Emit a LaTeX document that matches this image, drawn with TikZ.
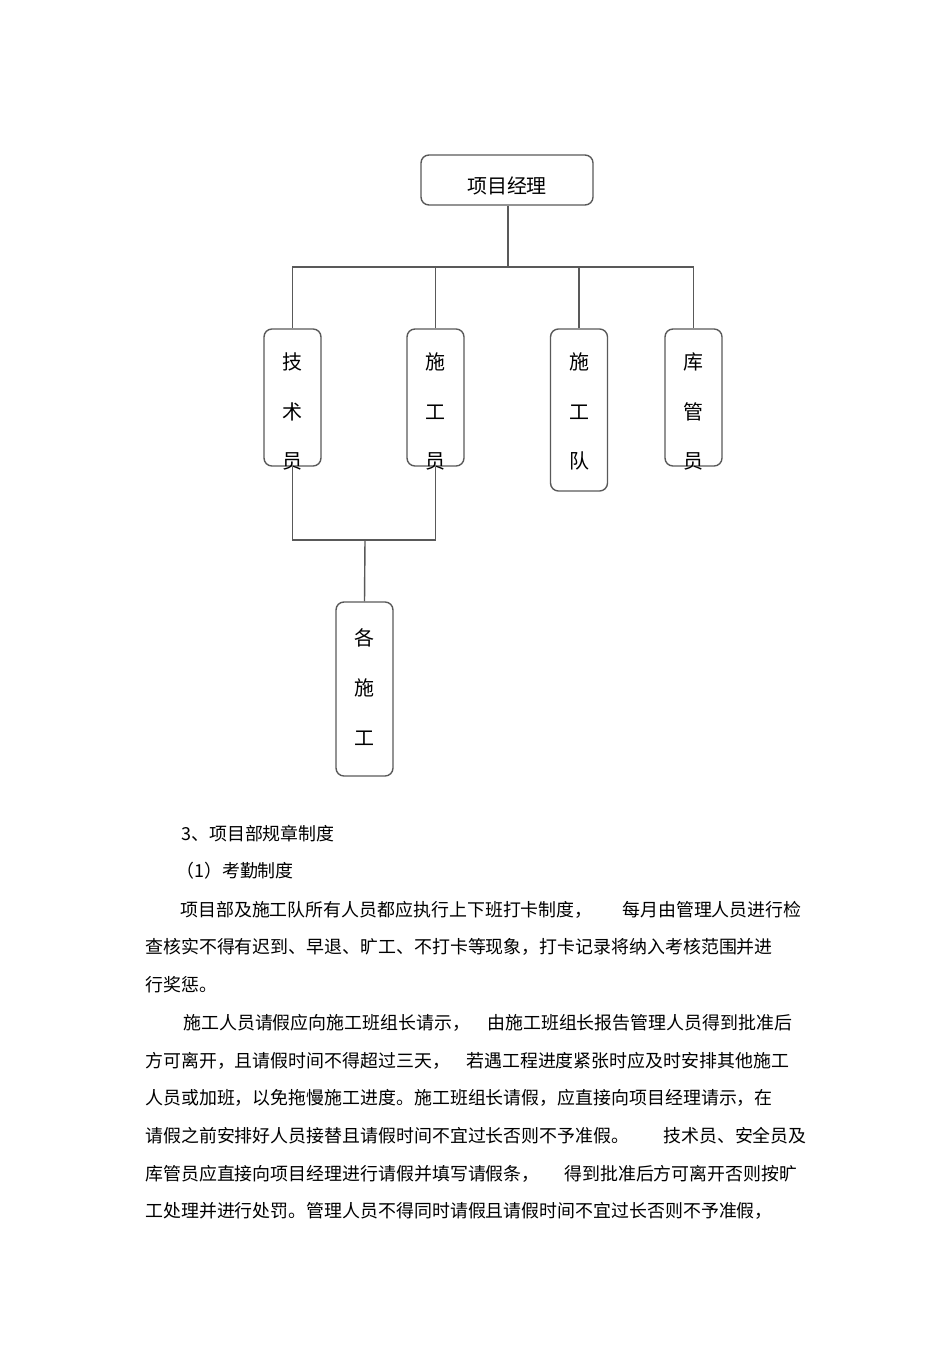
\documentclass[tikz,border=0pt]{standalone}
\usepackage{fontspec}
\newfontfamily\cjk{Noto Sans CJK SC}
\begin{document}
\begin{tikzpicture}
[x=0.025cm, y=-0.025cm,
box/.style={draw=black!65, line width=1pt, rounded corners=0.2cm, inner sep=0pt, minimum width=1.425cm},
vlabel/.style={font=\cjk\fontsize{14.2pt}{35.4pt}\selectfont, align=center, inner sep=0pt},
link/.style={draw=black!65, line width=1pt},
line/.style={font=\cjk\fontsize{12.75pt}{15pt}\selectfont, anchor=base west, inner sep=0pt}
]
\useasboundingbox (0,0) rectangle (950,1345);
% org chart
\node[box, minimum width=4.3cm, minimum height=1.25cm] (pm) at (507,180) {};
\node[vlabel] (pmt) at (507,186) {项目经理};
\node[box, minimum height=3.425cm] (js) at (292.5,397.5) {};
\node[box, minimum height=3.425cm] (sgy) at (435.5,397.5) {};
\node[box, minimum height=4.05cm] (sgd) at (579,410) {};
\node[box, minimum height=3.425cm] (kgy) at (693.5,397.5) {};
\node[box, minimum height=4.35cm] (gsg) at (364.5,689) {};
\node[vlabel] (jst) at (292.5,411.5) {技\\术\\员};
\node[vlabel] (sgyt) at (435.5,411.5) {施\\工\\员};
\node[vlabel] (sgdt) at (579,411.5) {施\\工\\队};
\node[vlabel] (kgyt) at (693.5,411.5) {库\\管\\员};
\node[vlabel] (gsgt) at (364.5,687) {各\\施\\工};
\coordinate (top) at (508,267);
\coordinate (low) at (365,540);
\draw[link] (pm.south -| top) -- (top);
\draw[link] (js.north) |- (top) -| (kgy.north);
\draw[link] (sgy.north) -- (sgy.north |- top);
\draw[link] (sgd.north) -- (sgd.north |- top);
\draw[link] (js.south) |- (low) -| (sgy.south);
\draw[link] (low) -- (gsg.north);
% text below
\node[line] (l1) at (181,840) {3、项目部规章制度};
\node[line] (l2) at (176,877) {（1）考勤制度};
\node[line] (l3a) at (180,916) {项目部及施工队所有人员都应执行上下班打卡制度，};
\node[line] (l3b) at (622,916) {每月由管理人员进行检};
\node[line] (l4) at (145,953) {查核实不得有迟到、早退、旷工、不打卡等现象，打卡记录将纳入考核范围并进};
\node[line] (l5) at (145,991) {行奖惩。};
\node[line] (l6a) at (183,1029) {施工人员请假应向施工班组长请示，};
\node[line] (l6b) at (487,1029) {由施工班组长报告管理人员得到批准后};
\node[line] (l7a) at (145,1067) {方可离开，且请假时间不得超过三天，};
\node[line] (l7b) at (466,1067) {若遇工程进度紧张时应及时安排其他施工};
\node[line] (l8) at (145,1104) {人员或加班，以免拖慢施工进度。施工班组长请假，应直接向项目经理请示，在};
\node[line] (l9a) at (145,1142) {请假之前安排好人员接替且请假时间不宜过长否则不予准假。};
\node[line] (l9b) at (663,1142) {技术员、安全员及};
\node[line] (l10a) at (145,1180) {库管员应直接向项目经理进行请假并填写请假条，};
\node[line] (l10b) at (564,1180) {得到批准后方可离开否则按旷};
\node[line] (l11) at (145,1217) {工处理并进行处罚。管理人员不得同时请假且请假时间不宜过长否则不予准假，};
\end{tikzpicture}
\end{document}
